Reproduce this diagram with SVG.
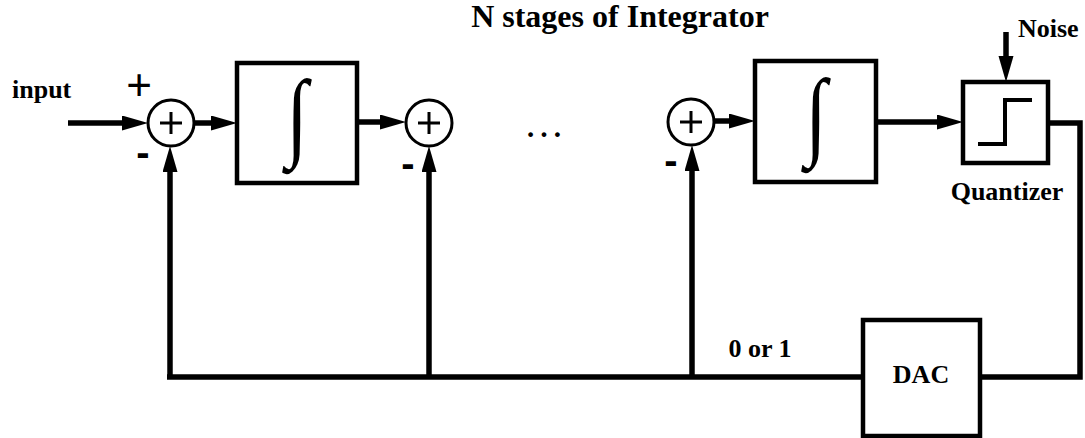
<svg xmlns="http://www.w3.org/2000/svg" width="1085" height="438" viewBox="0 0 1085 438">
  <style>
    .lbl { font-family: "Liberation Serif", "Times New Roman", serif; font-weight: bold; font-size: 26px; fill: #000; }
    .title { font-family: "Liberation Serif", "Times New Roman", serif; font-weight: bold; font-size: 32px; fill: #000; }
    .sign { font-family: "Liberation Sans", Arial, sans-serif; font-size: 44px; fill: #000; }
    .minus { font-family: "Liberation Sans", Arial, sans-serif; font-weight: bold; font-size: 40px; fill: #000; }
    .int { font-family: "Liberation Serif", "Times New Roman", serif; font-size: 98px; fill: #000; }
    .dots { font-family: "Liberation Serif", "Times New Roman", serif; font-size: 40px; fill: #000; }
    .box { fill: #fff; stroke: #000; stroke-width: 4.5; }
    .sum { fill: #fff; stroke: #000; stroke-width: 3; }
    .cross { stroke: #000; stroke-width: 3; }
    .wire { fill: none; stroke: #000; stroke-width: 5.5; }
    .arrow { fill: none; stroke: #000; stroke-width: 5.5; marker-end: url(#head); }
  </style>
  <defs>
    <marker id="head" markerUnits="userSpaceOnUse" markerWidth="27" markerHeight="16" refX="0" refY="7.5" orient="auto">
      <path d="M0,0 L26,7.5 L0,15 Z" fill="#000"/>
    </marker>
  </defs>

  <rect width="1085" height="438" fill="#fff"/>

  <text class="title" x="620" y="27" text-anchor="middle">N stages of Integrator</text>

  <g id="connectors">
    <!-- forward path -->
    <line class="arrow" x1="68" y1="123" x2="122" y2="123"/>
    <line class="arrow" x1="193" y1="123" x2="211" y2="123"/>
    <line class="arrow" x1="357" y1="122" x2="380" y2="122"/>
    <line class="arrow" x1="714" y1="121" x2="729" y2="121"/>
    <line class="arrow" x1="876" y1="122" x2="937" y2="122"/>
    <line class="arrow" x1="1006" y1="32" x2="1006" y2="56"/>
    <!-- feedback path -->
    <polyline class="wire" points="1048,123 1080,123 1080,377 980,377"/>
    <line class="wire" x1="863" y1="377" x2="167" y2="377"/>
    <line class="arrow" x1="170" y1="379" x2="170" y2="172"/>
    <line class="arrow" x1="429" y1="379" x2="429" y2="172"/>
    <line class="arrow" x1="692" y1="379" x2="692" y2="171"/>
  </g>

  <text class="lbl" x="12" y="98">input</text>
  <text class="sign" x="139" y="100" text-anchor="middle">+</text>
  <text class="minus" x="143" y="166" text-anchor="middle">-</text>
  <text class="minus" x="408" y="177" text-anchor="middle">-</text>
  <text class="minus" x="671" y="174" text-anchor="middle">-</text>

  <g id="sum1">
    <circle class="sum" cx="171" cy="123" r="23"/>
    <line class="cross" x1="160" y1="123" x2="182" y2="123"/>
    <line class="cross" x1="171" y1="112" x2="171" y2="134"/>
  </g>

  <g id="integrator1">
    <rect class="box" x="237" y="63" width="120" height="120"/>
    <text class="int" transform="translate(297 148) scale(0.8 1)" text-anchor="middle">∫</text>
  </g>

  <g id="sum2">
    <circle class="sum" cx="429" cy="123" r="23"/>
    <line class="cross" x1="418" y1="123" x2="440" y2="123"/>
    <line class="cross" x1="429" y1="112" x2="429" y2="134"/>
  </g>

  <text class="dots" x="544" y="137" text-anchor="middle">…</text>

  <g id="sum3">
    <circle class="sum" cx="691" cy="122" r="23"/>
    <line class="cross" x1="680" y1="122" x2="702" y2="122"/>
    <line class="cross" x1="691" y1="111" x2="691" y2="133"/>
  </g>

  <g id="integrator2">
    <rect class="box" x="755" y="61" width="121" height="121"/>
    <text class="int" transform="translate(816 147) scale(0.8 1)" text-anchor="middle">∫</text>
  </g>

  <g id="quantizer">
    <rect class="box" x="963" y="82" width="85" height="81"/>
    <polyline class="wire" style="stroke-width:4" points="978,144 1005,144 1005,100 1032,100"/>
    <text class="lbl" x="1007" y="200" text-anchor="middle">Quantizer</text>
  </g>
  <text class="lbl" x="1018" y="37">Noise</text>

  <text class="lbl" x="760" y="357" text-anchor="middle">0 or 1</text>

  <g id="dac">
    <rect class="box" x="863" y="320" width="117" height="116"/>
    <text class="lbl" x="921" y="383" text-anchor="middle">DAC</text>
  </g>
</svg>
